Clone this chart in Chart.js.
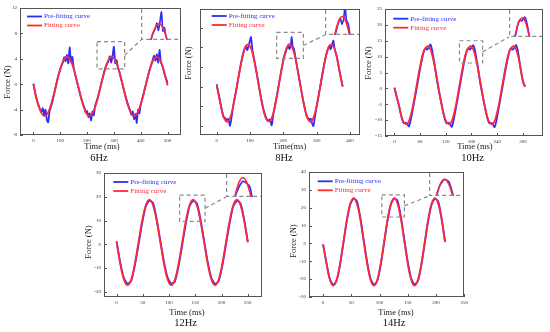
<!DOCTYPE html>
<html>
<head>
<meta charset="utf-8">
<title>Pre-fitting vs fitting curves</title>
<script src="https://cdn.jsdelivr.net/npm/chart.js@4/dist/chart.umd.min.js"></script>
<style>
    html, body { margin: 0; padding: 0; background: #fff; }
    body { position: relative; width: 550px; height: 332px; overflow: hidden; font-family: 'Liberation Serif', 'Times New Roman', serif; }
    canvas { position: absolute; }
    .lbl { position: absolute; white-space: nowrap; line-height: 1; color: #222; transform: translate(-50%, -50%); z-index: 5; }
    .axis { font-size: 8.5px; }
    .cap { font-size: 10.5px; color: #111; }
    .rot { transform: translate(-50%, -50%) rotate(-90deg); }
</style>
</head>
<body>
<script>
// ---- 6Hz ----
const xTicks6 = [0, 100, 200, 300, 400, 500];
const yTicks6 = [-8, -4, 0, 4, 8, 12];
const fitTime6 = [0, 10, 20, 30, 40, 50, 60, 70, 80, 90, 100, 110, 120, 130, 140, 150, 160, 170, 180, 190,
    200, 210, 220, 230, 240, 250, 260, 270, 280, 290, 300, 310, 320, 330, 340, 350, 360, 370, 380, 390,
    400, 410, 420, 430, 440, 450, 460, 470, 480, 490, 500];
const fitForce6 = [0.0, -2.06, -3.53, -4.55, -4.99, -4.78, -3.94, -2.61, -0.96, 0.78, 2.36, 3.56, 4.21, 4.23, 3.60, 2.42, 0.85, -0.88, -2.54, -3.89,
    -4.75, -4.99, -4.59, -3.59, -2.14, -0.43, 1.29, 2.77, 3.82, 4.29, 4.10, 3.30, 1.98, 0.34, -1.40, -2.99, -4.21, -4.89, -4.94, -4.34,
    -3.18, -1.63, 0.11, 1.78, 3.15, 4.03, 4.30, 3.92, 2.94, 1.51, -0.20];
const preTime6 = [0, 10, 20, 30, 35, 40, 45, 50, 55, 60, 65, 70, 80, 90, 100, 110, 115, 120, 125, 130,
    135, 140, 145, 150, 160, 170, 180, 190, 195, 200, 205, 210, 215, 220, 225, 230, 240, 250, 260, 270,
    280, 285, 290, 295, 300, 305, 310, 315, 320, 330, 340, 350, 360, 365, 370, 375, 380, 385, 390, 395,
    400, 410, 420, 430, 440, 445, 450, 455, 460, 465, 470, 475, 480, 490, 500];
const preForce6 = [0.1, -2.0, -3.4, -4.3, -3.8, -4.9, -4.0, -5.6, -6.0, -4.3, -3.6, -2.9, -1.0, 0.9, 2.4, 3.5, 4.3, 3.6, 4.6, 3.3,
    5.8, 3.5, 4.3, 2.6, 0.8, -0.9, -2.5, -3.7, -4.5, -4.2, -5.2, -4.6, -5.7, -4.3, -4.9, -3.4, -2.1, -0.4, 1.3, 2.8,
    3.7, 4.4, 3.4, 4.5, 5.9, 3.3, 3.8, 2.6, 2.0, 0.3, -1.4, -2.9, -4.1, -4.8, -4.3, -5.5, -4.7, -6.1, -4.0, -4.6,
    -3.2, -1.6, 0.1, 1.8, 3.2, 3.9, 4.5, 3.7, 4.7, 3.4, 5.4, 3.5, 3.0, 1.4, 0.2];

// ---- 8Hz ----
const xTicks8 = [0, 100, 200, 300, 400];
const yTicks8 = [-10, -5, 0, 5, 10, 15];
const fitTime8 = [0, 10, 20, 30, 40, 50, 60, 70, 80, 90, 100, 110, 120, 130, 140, 150, 160, 170, 180, 190,
    200, 210, 220, 230, 240, 250, 260, 270, 280, 290, 300, 310, 320, 330, 340, 350, 360, 370, 378];
const fitForce8 = [0.5, -3.80, -7.36, -8.88, -7.96, -4.84, -0.28, 4.58, 8.54, 10.62, 10.32, 7.70, 3.40, -1.50, -5.80, -8.42, -8.72, -6.64, -2.67, 2.18,
    6.74, 9.86, 10.78, 9.26, 5.70, 0.95, -3.80, -7.36, -8.88, -7.96, -4.84, -0.28, 4.58, 8.54, 10.62, 10.32, 7.70, 3.40, 0.0];
const preTime8 = [0, 10, 20, 25, 30, 35, 40, 45, 50, 60, 70, 80, 88, 92, 96, 100, 103, 107, 110, 120,
    130, 140, 150, 155, 160, 165, 170, 180, 190, 200, 210, 215, 218, 222, 225, 228, 232, 240, 250, 260,
    270, 278, 282, 285, 290, 295, 300, 310, 320, 330, 338, 342, 346, 350, 354, 360, 370, 378];
const preForce8 = [0.6, -3.5, -7.6, -7.9, -8.4, -8.2, -9.9, -7.6, -4.6, -0.2, 4.6, 8.6, 10.2, 9.3, 10.4, 11.8, 12.6, 9.5, 8.0, 3.5,
    -1.4, -5.6, -8.2, -8.6, -8.3, -9.8, -7.0, -2.6, 2.2, 6.7, 9.6, 10.6, 9.6, 10.3, 12.6, 10.2, 9.6, 5.6, 0.9, -3.7,
    -7.4, -8.3, -8.1, -9.0, -10.0, -7.5, -5.0, -0.3, 4.5, 8.5, 10.4, 9.5, 10.6, 11.7, 9.6, 7.8, 3.3, 0.1];

// ---- 10Hz ----
const xTicks10 = [0, 60, 120, 180, 240, 300];
const yTicks10 = [-15, -10, -5, 0, 5, 10, 15, 20, 25];
const fitTime10 = [0, 10, 20, 30, 40, 50, 60, 70, 80, 90, 100, 110, 120, 130, 140, 150, 160, 170, 180, 190,
    200, 210, 220, 230, 240, 250, 260, 270, 280, 290, 300, 305];
const fitForce10 = [0.3, -4.97, -10.2, -11.2, -7.49, -0.55, 6.97, 12.2, 13.2, 9.49, 2.55, -4.97, -10.2, -11.2, -7.49, -0.55, 6.97, 12.2, 13.2, 9.49,
    2.55, -4.97, -10.2, -11.2, -7.49, -0.55, 6.97, 12.2, 13.2, 9.49, 2.3, 0.6];
const preTime10 = [0, 10, 18, 22, 26, 30, 34, 38, 45, 50, 60, 68, 72, 76, 80, 84, 88, 95, 100, 110,
    118, 122, 126, 130, 134, 138, 145, 150, 160, 168, 172, 176, 180, 184, 188, 195, 200, 210, 218, 222,
    226, 230, 234, 238, 245, 250, 260, 268, 272, 276, 280, 284, 288, 295, 300, 305];
const preForce10 = [0.1, -5.2, -9.8, -11.0, -10.8, -11.2, -12.0, -10.0, -5.0, -1.5, 6.2, 11.4, 12.6, 12.2, 12.9, 13.8, 12.0, 6.5, 2.0, -5.0,
    -9.8, -11.0, -10.8, -11.3, -12.1, -10.2, -5.2, -1.4, 6.2, 11.4, 12.6, 12.2, 12.8, 13.6, 12.0, 6.5, 2.0, -5.0, -9.8, -11.0,
    -10.9, -11.3, -12.2, -10.3, -5.2, -1.4, 6.2, 11.4, 12.6, 12.2, 12.8, 13.7, 12.0, 6.0, 2.2, 0.5];

// ---- 12Hz ----
const xTicks12 = [0, 50, 100, 150, 200, 250];
const yTicks12 = [-20, -10, 0, 10, 20, 30];
const time12 = [0, 6.9, 13.9, 20.8, 27.8, 34.7, 41.7, 48.6, 55.6, 62.5, 69.4, 76.4, 83.3, 90.3, 97.2, 104.2, 111.1, 118.1, 125, 131.9,
    138.9, 145.8, 152.8, 159.7, 166.7, 173.6, 180.6, 187.5, 194.4, 201.4, 208.3, 215.3, 222.2, 229.2, 236.1, 243.1, 250];
const fitForce12 = [1.2, -8.2, -14.8, -17.2, -14.8, -8.2, 0.8, 9.8, 16.4, 18.8, 16.4, 9.8,
    0.8, -8.2, -14.8, -17.2, -14.8, -8.2, 0.8, 9.8, 16.4, 18.8, 16.4, 9.8,
    0.8, -8.2, -14.8, -17.2, -14.8, -8.2, 0.8, 9.8, 16.4, 18.8, 16.4, 9.8, 0.8];
const preForce12 = [1.2, -7.6, -14.2, -16.6, -15.4, -9.0, -0.2, 8.8, 16.0, 18.3, 17.4, 10.6,
    1.5, -7.4, -14.0, -16.6, -15.6, -9.2, -0.3, 8.7, 16.0, 18.2, 17.3, 10.8,
    1.5, -7.5, -14.1, -16.7, -15.5, -9.1, -0.2, 8.8, 16.0, 18.3, 17.2, 10.4, 1.0];

// ---- 14Hz ----
const xTicks14 = [0, 50, 100, 150, 200, 250];
const yTicks14 = [-30, -20, -10, 0, 10, 20, 30, 40];
const time14 = [0, 6, 12, 18, 24, 30, 36, 42, 48, 54, 60, 66, 72, 78, 84, 90, 96, 102, 108, 114,
    120, 126, 132, 138, 144, 150, 156, 162, 168, 174, 180, 186, 192, 198, 204, 210, 216];
const fitForce14 = [-0.5, -11.35, -20.3, -23.6, -20.3, -11.35, 0.9, 13.15, 22.1, 25.4, 22.1, 13.15,
    0.9, -11.35, -20.3, -23.6, -20.3, -11.35, 0.9, 13.15, 22.1, 25.4, 22.1, 13.15,
    0.9, -11.35, -20.3, -23.6, -20.3, -11.35, 0.9, 13.15, 22.1, 25.4, 22.1, 13.15, 0.9];
const preForce14 = [-0.6, -11.0, -20.0, -23.2, -20.8, -12.0, 0.2, 12.6, 21.8, 25.2, 23.6, 14.4,
    1.8, -10.4, -19.8, -23.2, -20.9, -12.2, 0.1, 12.5, 21.8, 25.2, 23.8, 14.6,
    1.9, -10.3, -19.7, -23.0, -21.0, -12.3, 0.0, 12.4, 21.7, 25.0, 23.5, 14.0, 0.8];

const BLUE = 'rgb(45,45,250)';
const RED = 'rgb(255,40,55)';
const SERIF = "'Liberation Serif', 'Times New Roman', serif";

// area = plot box [left, top, right, bottom] in page pixels
const panels = [
    { area: [20, 6, 181, 135], x: [-50, 550], y: [-8, 12], xTicks: xTicks6, yTicks: yTicks6, yLabels: true,
      pre: [preTime6, preForce6], fit: [fitTime6, fitForce6],
      box: [237, 340, 2.4, 6.7], inset: { left: 402, bottom: 7.0, x: [232, 362], y: [2.1, 6.3] },
      legend: [7, 8.5], yTitle: [7.3, 81.7], xTitle: [102, 146, 'Time (ms)'], caption: [99, 158.3, '6Hz'] },
    { area: [200, 7, 360, 135], x: [-50, 430], y: [-12.25, 19.75], xTicks: xTicks8, yTicks: yTicks8, yLabels: false,
      pre: [preTime8, preForce8], fit: [fitTime8, fitForce8],
      box: [180, 260, 7.2, 13.8], inset: { left: 325, bottom: 13.2, x: [182, 255], y: [7.9, 11.8] },
      legend: [11.7, 7], yTitle: [188.3, 62.5], xTitle: [289.7, 146, 'Time(ms)'], caption: [284, 158, '8Hz'] },
    { area: [385, 7, 543, 136], x: [-22, 347], y: [-15, 25], xTicks: xTicks10, yTicks: yTicks10, yLabels: true,
      pre: [preTime10, preForce10], fit: [fitTime10, fitForce10],
      box: [152, 206, 8.0, 15.0], inset: { left: 268, bottom: 16.3, x: [145, 226], y: [6.3, 16.2] },
      legend: [8.3, 9.7], yTitle: [368.3, 62.5], xTitle: [475, 146, 'Time (ms)'], caption: [472.5, 157.7, '10Hz'] },
    { area: [104, 171, 262, 297], x: [-24, 277], y: [-22.2, 30], xTicks: xTicks12, yTicks: yTicks12, yLabels: true,
      pre: [time12, preForce12], fit: [time12, fitForce12],
      box: [120, 168.5, 9.6, 20.7], inset: { left: 208.6, bottom: 20.0, x: [129, 164], y: [15.6, 19.4] },
      legend: [9.3, 9], yTitle: [88.3, 241.7], xTitle: [187, 312.3, 'Time (ms)'], caption: [185.5, 323.3, '12Hz'] },
    { area: [309, 170, 466, 297], x: [-25, 250], y: [-30, 40], xTicks: xTicks14, yTicks: yTicks14, yLabels: true,
      pre: [time14, preForce14], fit: [time14, fitForce14],
      box: [104, 144, 14.8, 27.2], inset: { left: 188, bottom: 26.7, x: [105, 151], y: [14.8, 29.4] },
      legend: [8.7, 9.3], yTitle: [293.3, 240.8], xTitle: [396, 312.3, 'Time (ms)'], caption: [394, 323.3, '14Hz'] }
];

function toPoints(times, forces) {
    return times.map((t, i) => ({ x: t, y: forces[i] }));
}

function makeDatasets(p, width) {
    return [
        { label: 'Pre-fitting curve', data: toPoints(p.pre[0], p.pre[1]), borderColor: BLUE, borderWidth: width,
          tension: 0.2, order: 1, pointRadius: 0, fill: false },
        { label: 'Fitting curve', data: toPoints(p.fit[0], p.fit[1]), borderColor: RED, borderWidth: width,
          tension: 0.4, order: 0, pointRadius: 0, fill: false }
    ];
}

// frame, inward ticks, zoom box, connector and legend of a main panel
const framePlugin = {
    id: 'frame',
    afterDraw(chart, args, opts) {
        const ctx = chart.ctx;
        const a = chart.chartArea;
        const xs = chart.scales.x;
        const ys = chart.scales.y;
        const L = Math.round(a.left), T = Math.round(a.top), R = Math.round(a.right), B = Math.round(a.bottom);
        ctx.save();

        // dashed zoom box and connector to the inset corner
        const bx0 = xs.getPixelForValue(opts.box[0]);
        const bx1 = xs.getPixelForValue(opts.box[1]);
        const by0 = ys.getPixelForValue(opts.box[2]);
        const by1 = ys.getPixelForValue(opts.box[3]);
        ctx.strokeStyle = '#8a8a8a';
        ctx.lineWidth = 1.2;
        ctx.setLineDash([4, 3]);
        ctx.strokeRect(bx0, by1, bx1 - bx0, by0 - by1);
        ctx.beginPath();
        ctx.moveTo(bx1, (by0 + by1) / 2);
        ctx.lineTo(Math.round(xs.getPixelForValue(opts.insetLeft)), Math.round(ys.getPixelForValue(opts.insetBottom)));
        ctx.stroke();
        ctx.setLineDash([]);

        // plot frame
        ctx.strokeStyle = '#555';
        ctx.lineWidth = 1;
        ctx.strokeRect(L + 0.5, T + 0.5, R - L - 1, B - T - 1);

        // inward tick marks
        ctx.beginPath();
        xs.ticks.forEach(t => {
            const px = Math.round(xs.getPixelForValue(t.value)) + 0.5;
            ctx.moveTo(px, B);
            ctx.lineTo(px, B - 3);
        });
        ys.ticks.forEach(t => {
            const py = Math.round(ys.getPixelForValue(t.value)) + 0.5;
            ctx.moveTo(L, py);
            ctx.lineTo(L + 3, py);
        });
        ctx.stroke();

        // legend inside the plot
        ctx.font = '7px ' + SERIF;
        ctx.textBaseline = 'middle';
        chart.data.datasets.forEach((ds, i) => {
            const y = a.top + opts.legend[1] + i * 9;
            const x0 = a.left + opts.legend[0];
            ctx.strokeStyle = ds.borderColor;
            ctx.lineWidth = 1.8;
            ctx.beginPath();
            ctx.moveTo(x0, y);
            ctx.lineTo(x0 + 15, y);
            ctx.stroke();
            ctx.fillStyle = ds.borderColor;
            ctx.fillText(ds.label, x0 + 17, y);
        });
        ctx.restore();
    }
};

// white background plus dashed left/bottom edges of the magnified inset
const insetPlugin = {
    id: 'insetFrame',
    beforeDraw(chart) {
        const ctx = chart.ctx;
        ctx.save();
        ctx.fillStyle = '#fff';
        ctx.fillRect(0, 0, chart.width, chart.height);
        ctx.restore();
    },
    afterDraw(chart) {
        const ctx = chart.ctx;
        ctx.save();
        ctx.strokeStyle = '#8a8a8a';
        ctx.lineWidth = 1.2;
        ctx.setLineDash([4, 3]);
        ctx.beginPath();
        ctx.moveTo(0.6, 0);
        ctx.lineTo(0.6, chart.height - 0.6);
        ctx.lineTo(chart.width, chart.height - 0.6);
        ctx.stroke();
        ctx.restore();
    }
};

function addText(text, x, y, cls) {
    const div = document.createElement('div');
    div.className = 'lbl ' + cls;
    div.textContent = text;
    div.style.left = x + 'px';
    div.style.top = y + 'px';
    document.body.appendChild(div);
}

function addCanvas(left, top, width, height) {
    const canvas = document.createElement('canvas');
    canvas.width = width;
    canvas.height = height;
    canvas.style.left = left + 'px';
    canvas.style.top = top + 'px';
    document.body.appendChild(canvas);
    return canvas;
}

function drawPanel(p) {
    const [l, t, r, b] = p.area;
    const yW = 18, xH = 10, padTop = 4, padRight = 5;
    const cLeft = l - yW;
    const cTop = t - padTop;
    const canvas = addCanvas(cLeft, cTop, r + padRight - cLeft, b + xH - cTop);
    const tickFont = { family: SERIF, size: 5 };

    const chart = new Chart(canvas.getContext('2d'), {
        type: 'line',
        data: { datasets: makeDatasets(p, 1.8) },
        options: {
            responsive: false,
            animation: false,
            devicePixelRatio: 1,
            layout: { padding: { top: padTop, right: padRight, left: 0, bottom: 0 } },
            plugins: {
                legend: { display: false },
                tooltip: { enabled: false },
                frame: { box: p.box, insetLeft: p.inset.left, insetBottom: p.inset.bottom, legend: p.legend }
            },
            scales: {
                x: {
                    type: 'linear', min: p.x[0], max: p.x[1],
                    grid: { display: false, drawTicks: false },
                    border: { display: false },
                    ticks: { font: tickFont, color: '#333', padding: 3, maxRotation: 0, autoSkip: false },
                    afterBuildTicks: s => { s.ticks = p.xTicks.map(v => ({ value: v })); },
                    afterFit: s => { s.height = xH; }
                },
                y: {
                    type: 'linear', min: p.y[0], max: p.y[1],
                    grid: { display: false, drawTicks: false },
                    border: { display: false },
                    ticks: { font: tickFont, color: '#333', padding: 3, autoSkip: false,
                             callback: v => (p.yLabels ? v : '') },
                    afterBuildTicks: s => { s.ticks = p.yTicks.map(v => ({ value: v })); },
                    afterFit: s => { s.width = yW; }
                }
            }
        },
        plugins: [framePlugin]
    });

    // magnified peak in the top-right corner
    const a = chart.chartArea;
    const iLeft = Math.round(chart.scales.x.getPixelForValue(p.inset.left));
    const iBottom = Math.round(chart.scales.y.getPixelForValue(p.inset.bottom));
    const iTop = Math.round(a.top) + 1;
    const iRight = Math.round(a.right) - 1;
    const insetCanvas = addCanvas(cLeft + iLeft, cTop + iTop, iRight - iLeft, iBottom - iTop);
    new Chart(insetCanvas.getContext('2d'), {
        type: 'line',
        data: { datasets: makeDatasets(p, 1.6) },
        options: {
            responsive: false,
            animation: false,
            devicePixelRatio: 1,
            layout: { padding: 0 },
            plugins: { legend: { display: false }, tooltip: { enabled: false } },
            scales: {
                x: { type: 'linear', display: false, min: p.inset.x[0], max: p.inset.x[1] },
                y: { type: 'linear', display: false, min: p.inset.y[0], max: p.inset.y[1] }
            }
        },
        plugins: [insetPlugin]
    });

    addText('Force (N)', p.yTitle[0], p.yTitle[1], 'axis rot');
    addText(p.xTitle[2], p.xTitle[0], p.xTitle[1], 'axis');
    addText(p.caption[2], p.caption[0], p.caption[1], 'cap');
}

panels.forEach(drawPanel);
</script>
</body>
</html>
